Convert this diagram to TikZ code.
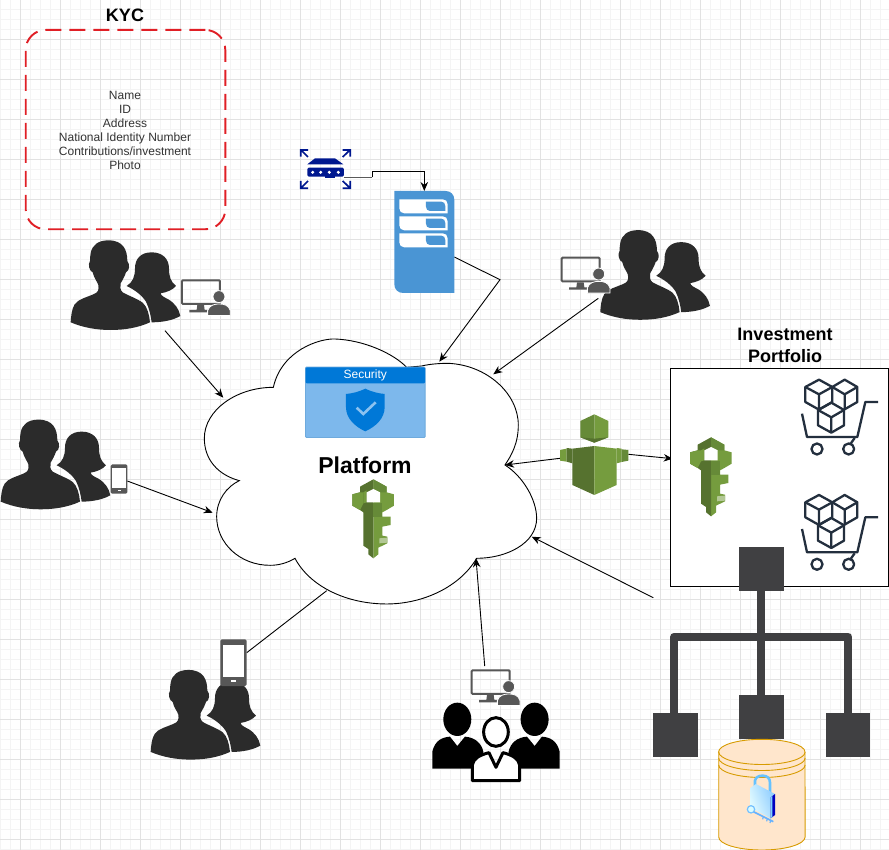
\documentclass[tikz,border=0pt]{standalone}
\usepackage{fontspec}
\setmainfont{Liberation Sans}
\usetikzlibrary{arrows.meta,shapes.geometric}
\definecolor{gridmajor}{HTML}{E2E2E2}
\definecolor{gridminor}{HTML}{F4F4F4}
\definecolor{silhouette}{HTML}{2B2B2B}
\definecolor{devicegray}{HTML}{575757}
\definecolor{kycred}{HTML}{E01F26}
\definecolor{navy}{HTML}{00188F}
\definecolor{serverblue}{HTML}{4A95D4}
\definecolor{secdark}{HTML}{0078D7}
\definecolor{seclight}{HTML}{7DB8EC}
\definecolor{seccheck}{HTML}{8CC2F0}
\definecolor{awslight}{HTML}{759C3E}
\definecolor{awsdark}{HTML}{56722F}
\definecolor{awsmid}{HTML}{668A38}
\definecolor{cartink}{HTML}{232F3E}
\definecolor{orggray}{HTML}{404042}
\definecolor{cylfill}{HTML}{FFE6CC}
\definecolor{cylline}{HTML}{D79B00}
\tikzset{
  link/.style={draw=black,line width=0.9pt},
  arrowlink/.style={link,-{Stealth[length=9pt,width=7.5pt]}},
  heading/.style={font=\fontsize{18}{22}\selectfont\bfseries,align=center,text=black,inner sep=0pt},
  kycbox/.style={draw=kycred,line width=1.9pt,dash pattern=on 16pt off 8pt,rounded corners=20pt,minimum width=199.6pt,minimum height=199.3pt,inner sep=0pt},
  kyctext/.style={inner sep=0pt,font=\fontsize{12}{14}\selectfont,text=black!80,align=center},
  orgbox/.style={fill=orggray,draw=none,minimum size=44.5pt,inner sep=0pt},
  orgline/.style={draw=orggray,line width=8pt,line join=round},
  cartline/.style={draw=cartink,line width=2.3pt,line join=round,fill=none},
}
\newcommand{\personpair}[2]{%
\begin{scope}[shift={({#1+70},{#2+235})},scale=0.3333]
 \fill[silhouette] (115,16) .. controls (85,16) and (66,30) .. (62,55)
   .. controls (60,65) and (60,72) .. (60,78)
   .. controls (53,88) and (58,108) .. (68,112)
   .. controls (72,130) and (82,140) .. (85,150)
   .. controls (87,165) and (85,172) .. (70,178)
   .. controls (50,187) and (25,192) .. (14,208)
   .. controls (5,222) and (3,245) .. (2,262)
   .. controls (40,278) and (80,285) .. (122,285)
   .. controls (165,285) and (205,278) .. (240,262)
   .. controls (238,240) and (232,215) .. (218,203)
   .. controls (200,190) and (175,182) .. (158,172)
   .. controls (150,165) and (150,155) .. (152,145)
   .. controls (158,135) and (165,122) .. (168,112)
   .. controls (178,108) and (181,88) .. (172,78)
   .. controls (172,45) and (160,16) .. (115,16) -- cycle;
 \fill[silhouette] (245,52) .. controls (212,52) and (195,72) .. (195,100)
   .. controls (195,125) and (188,142) .. (170,153)
   .. controls (195,165) and (215,180) .. (228,200)
   .. controls (238,220) and (243,245) .. (245,262)
   .. controls (280,262) and (310,255) .. (331,243)
   .. controls (327,222) and (315,205) .. (295,193)
   .. controls (285,188) and (272,182) .. (272,175)
   .. controls (290,172) and (308,165) .. (318,153)
   .. controls (302,140) and (297,125) .. (297,100)
   .. controls (297,72) and (278,52) .. (245,52) -- cycle;
\end{scope}}
\newcommand{\monitorperson}[2]{%
\begin{scope}[shift={(#1,#2)},scale=0.3333]
 \draw[devicegray,line width=2pt,rounded corners=1pt] (546,841) rectangle (660,912);
 \fill[devicegray] (592,915) -- (612,915) -- (614,930) -- (622,930) -- (622,937) -- (568,937) -- (568,930) -- (590,930) -- cycle;
 \fill[devicegray,draw=white,line width=0.8pt] (623,947) -- (623,932) .. controls (628,915) and (645,912) .. (657,912) .. controls (672,912) and (686,915) .. (691,932) -- (691,947) -- cycle;
 \fill[devicegray,draw=white,line width=0.8pt] (657,890) circle [radius=18];
\end{scope}}
\newcommand{\phoneicon}[3]{%
\begin{scope}[shift={(#1,#2)},scale=#3]
 \fill[devicegray,rounded corners=1.5pt] (0,0) rectangle (26.4,46.7);
 \fill[white] (2.6,5.6) rectangle (23.6,37.4);
 \fill[white] (10.8,40.7) rectangle (16,42.7);
\end{scope}}
\newcommand{\keyicon}[2]{%
\begin{scope}[shift={(#1,#2)},scale=0.3333]
 % right half
 \fill[awslight] (85,13) -- (125,35) -- (125,52) -- (147,58) -- (147,92) -- (125,105) -- (112,112) -- (112,125) -- (137,125) -- (137,150) -- (112,155) -- (112,182) -- (127,185) -- (127,205) -- (100,218) -- (100,238) -- (85,250) -- cycle;
 % left half
 \fill[awsdark] (85,13) -- (45,35) -- (45,52) -- (22,58) -- (22,92) -- (45,105) -- (55,112) -- (55,212) -- (70,222) -- (70,238) -- (85,250) -- cycle;
 \fill[awslight] (45,52) -- (22,58) -- (22,92) -- (45,105) -- (55,85) -- (55,52) -- cycle;
 \fill[awsmid] (85,13) -- (125,35) -- (125,52) -- (105,52) -- (85,42) -- cycle;
 \fill[awsmid] (85,85) -- (112,85) -- (112,125) -- (85,125) -- cycle;
 \fill[awslight!55!white] (103,190) -- (127,188) -- (127,203) -- (103,205) -- cycle;
 \fill[awslight] (55,52) -- (65,46) -- (65,82) -- (55,85) -- cycle;
 \fill[white] (85,42) -- (105,52) -- (105,82) -- (65,82) -- (65,52) -- cycle;
\end{scope}}
\newcommand{\carticon}[2]{%
\begin{scope}[shift={(#1,#2)},scale=0.3333]
 \draw[cartline] (63,23) -- (103,45) -- (103,90) -- (63,113) -- (22,90) -- (22,45) -- cycle;
 \draw[cartline] (22,45) -- (63,67) -- (103,45) (63,67) -- (63,113);
 \draw[cartline] (103,45) -- (140,23) -- (178,45) -- (178,90) -- (138,113);
 \draw[cartline] (103,45) -- (140,67) -- (178,45) (140,67) -- (140,113);
 \draw[cartline] (100,92) -- (138,114) -- (138,160) -- (100,182) -- (60,160) -- (60,114) -- cycle;
 \draw[cartline] (60,114) -- (100,136) -- (138,114) (100,136) -- (100,182);
 \draw[cartline] (240,90) -- (202,90) -- (178,195) -- (27,195) -- (12,125);
 \draw[cartline] (57,231) circle [radius=16.5];
 \draw[cartline] (152,231) circle [radius=16.5];
 \draw[cartline] (170,198) -- (158,215);
\end{scope}}
\begin{document}
\begin{tikzpicture}[x=1pt,y=-1pt]
\useasboundingbox (0,0) rectangle (889,850);
\fill[white] (0,0) rectangle (889,850);
% grid
\foreach \k in {0,...,88} \draw[gridminor,line width=0.8pt] ({0.7+10*\k},0) -- ({0.7+10*\k},850);
\foreach \k in {0,...,85} \draw[gridminor,line width=0.8pt] (0,{-0.6+10*\k}) -- (889,{-0.6+10*\k});
\foreach \k in {0,...,21} \draw[gridmajor,line width=0.9pt] ({20.7+40*\k},0) -- ({20.7+40*\k},850);
\foreach \k in {0,...,20} \draw[gridmajor,line width=0.9pt] (0,{39.4+40*\k}) -- (889,{39.4+40*\k});

% connector end points
\coordinate (kycUsersOut) at (165,330.7);
\coordinate (cloudKyc) at (223.3,397.7);
\coordinate (rightUsersOut) at (598.3,298.3);
\coordinate (cloudRight) at (493.3,374.3);
\coordinate (leftUsersOut) at (127.3,481);
\coordinate (cloudLeft) at (212.7,512.7);
\coordinate (phoneOut) at (246.7,652.7);
\coordinate (cloudBottom) at (326.7,590.7);
\coordinate (teamOut) at (484.7,666);
\coordinate (cloudTeam) at (476,558.3);
\coordinate (orgOut) at (653.3,597.7);
\coordinate (cloudOrg) at (531.7,536.7);
\coordinate (iamLeft) at (560,458.3);
\coordinate (cloudIam) at (505,465);
\coordinate (iamRight) at (628.3,454.3);
\coordinate (portfolioIn) at (672.7,458.7);
\coordinate (routerOut) at (344,177.3);
\coordinate (routerBendA) at (372.3,177.3);
\coordinate (routerBendB) at (372.3,171.3);
\coordinate (routerBendC) at (424.3,171.3);
\coordinate (serverTop) at (424.3,191);
\coordinate (serverOut) at (454.3,257);
\coordinate (serverBend) at (500,279.7);
\coordinate (cloudServer) at (439.3,361.7);

% cloud
\begin{scope}[shift={(190,330)},scale=0.3333]
 \draw[fill=white,draw=black,line width=0.9pt] (250,172)
  .. controls (275,60) and (390,25) .. (435,27)
  .. controls (520,30) and (610,70) .. (650,112)
  -- (695,108)
  .. controls (720,102) and (750,100) .. (775,100)
  .. controls (890,105) and (985,190) .. (985,285)
  .. controls (985,340) and (965,375) .. (945,405)
  .. controls (1000,440) and (1040,510) .. (1040,565)
  .. controls (1040,640) and (950,685) .. (860,685)
  .. controls (810,770) and (700,822) .. (590,822)
  .. controls (470,822) and (360,770) .. (315,685)
  .. controls (290,700) and (265,706) .. (240,706)
  .. controls (150,706) and (80,640) .. (80,560)
  .. controls (80,510) and (110,470) .. (148,452)
  .. controls (85,435) and (43,390) .. (43,325)
  .. controls (43,240) and (140,172) .. (250,172) -- cycle;
\end{scope}

% connectors
\draw[arrowlink] (kycUsersOut) -- (cloudKyc);
\draw[arrowlink] (rightUsersOut) -- (cloudRight);
\draw[arrowlink] (leftUsersOut) -- (cloudLeft);
\draw[link] (phoneOut) -- (cloudBottom);
\draw[arrowlink] (teamOut) -- (cloudTeam);
\draw[arrowlink] (orgOut) -- (cloudOrg);
\draw[arrowlink] (iamLeft) -- (cloudIam);
\draw[arrowlink] (iamRight) -- (portfolioIn);
\draw[arrowlink] (serverOut) -- (serverBend) -- (cloudServer);
\draw[link,draw=black!65] (routerOut) -- (routerBendA);
\draw[arrowlink] (routerBendA) -- (routerBendB) -- (routerBendC) -- (serverTop);

% KYC
\node[heading] (kycTitle) at (125,15) {KYC};
\node[kycbox] (kyc) at (125.5,129.6) {};
\node[kyctext] (kycText) at (125,130) {Name\\ID\\Address\\National Identity Number\\Contributions/investment\\Photo};

% people
\personpair{0}{0}
\personpair{529.6}{-10.2}
\personpair{-70}{179.3}
\personpair{80}{429.6}
\monitorperson{0}{0}
\monitorperson{379.7}{-22.6}
\monitorperson{289.7}{390}
\phoneicon{110.7}{464.3}{0.63}
\phoneicon{220.3}{639.3}{1}

% team
\begin{scope}[shift={(140,620)},scale=0.3333]
 \fill[black] (952,298) ellipse [x radius=42,y radius=50];
 \fill[black] (1184,298) ellipse [x radius=42,y radius=50];
 \fill[black] (877,446) -- (877,395) .. controls (885,362) and (905,352) .. (930,350) -- (952,378) -- (975,350) .. controls (1005,352) and (1025,370) .. (1030,395) -- (1030,446) -- cycle;
 \fill[black] (1259,446) -- (1259,395) .. controls (1251,362) and (1231,352) .. (1206,350) -- (1184,378) -- (1161,350) .. controls (1131,352) and (1111,370) .. (1106,395) -- (1106,446) -- cycle;
 \draw[fill=white,draw=black,line width=3pt] (1068,336) ellipse [x radius=37,y radius=43];
 \draw[fill=white,draw=black,line width=3pt,line join=round] (997,482) -- (997,435) .. controls (1000,415) and (1020,405) .. (1047,398) -- (1068,442) -- (1089,398) .. controls (1116,405) and (1136,415) .. (1139,435) -- (1139,482) -- cycle;
\end{scope}

% router
\begin{scope}[shift={(280,130)},scale=0.3333]
 \fill[navy] (105,85) -- (165,85) -- (190,103) -- (82,103) -- cycle;
 \fill[navy,rounded corners=1.5pt] (82,113) rectangle (192,140);
 \fill[navy] (135,138) rectangle (165,143);
 \foreach \d in {98,122,148,175} \fill[white] (\d,127) circle [radius=5];
 \draw[navy,line width=1.7pt] (84,81) -- (65,62) (62,80) -- (62,60) -- (84,60);
 \draw[navy,line width=1.7pt] (188,81) -- (208,62) (188,60) -- (211,60) -- (211,80);
 \draw[navy,line width=1.7pt] (84,153) -- (65,172) (62,153) -- (62,175) -- (84,175);
 \draw[navy,line width=1.7pt] (188,153) -- (208,172) (188,175) -- (211,175) -- (211,153);
\end{scope}

% server
\begin{scope}[shift={(280,130)},scale=0.3333]
 \fill[serverblue] (343,183) -- (497,183) .. controls (512,183) and (523,194) .. (523,209) -- (523,489) -- (369,489) .. controls (354,489) and (343,478) .. (343,463) -- cycle;
 \foreach \t in {208,259,310} {
  \fill[white] (358,\t) -- (488,\t) .. controls (497,\t) and (503,{\t+6}) .. (503,{\t+15}) -- (503,{\t+42}) -- (373,{\t+42}) .. controls (364,{\t+42}) and (358,{\t+36}) .. (358,{\t+27}) -- cycle;
  \fill[serverblue] (438,{\t+7}) -- (484,{\t+7}) .. controls (491,{\t+7}) and (496,{\t+12}) .. (496,{\t+20}) -- (496,{\t+35}) -- (450,{\t+35}) .. controls (443,{\t+35}) and (438,{\t+30}) .. (438,{\t+22}) -- cycle;
 }
\end{scope}

% security panel
\node[inner sep=0pt,minimum width=119.3pt,minimum height=70pt] (security) at (365.3,402.3) {};
\draw[fill=seclight,draw=serverblue!80,line width=0.9pt,rounded corners=1pt] (security.north west) rectangle (security.south east);
\fill[secdark,rounded corners=1pt] (305.7,367.3) rectangle (425,383.3);
\node[inner sep=0pt,text=white,font=\fontsize{12}{14}\selectfont] (securityTitle) at (365.3,375.5) {Security};
\begin{scope}[shift={(190,330)},scale=0.3333]
 \fill[secdark] (526,176) .. controls (505,186) and (488,190) .. (468,192) -- (468,232) .. controls (468,265) and (495,290) .. (526,304) .. controls (557,290) and (584,265) .. (584,232) -- (584,192) .. controls (564,190) and (547,186) .. (526,176) -- cycle;
 \draw[seccheck,line width=2.6pt] (500,233) -- (520,252) -- (557,217);
\end{scope}

\node[inner sep=0pt,font=\fontsize{23}{26}\selectfont\bfseries] (platform) at (365,465) {Platform};
\keyicon{345}{475}

% IAM figure
\begin{scope}[shift={(555,410)},scale=0.3333]
 \fill[awslight] (118,13) -- (160,33) -- (160,82) -- (118,98) -- cycle;
 \fill[awsmid] (118,13) -- (76,33) -- (76,82) -- (118,98) -- cycle;
 \fill[awsdark] (76,82) -- (118,86) -- (160,82) -- (118,98) -- cycle;
 \fill[awsdark] (118,108) -- (52,116) -- (52,225) -- (118,255) -- cycle;
 \fill[awslight] (118,108) -- (185,116) -- (185,225) -- (118,255) -- cycle;
 \fill[awslight] (15,120) -- (35,116) -- (35,155) -- (15,152) -- cycle;
 \fill[awsdark] (35,114) -- (52,116) -- (52,160) -- (35,155) -- cycle;
 \fill[awslight] (185,114) -- (200,116) -- (200,156) -- (185,160) -- cycle;
 \fill[awsmid] (200,118) -- (220,120) -- (220,152) -- (200,156) -- cycle;
\end{scope}

% portfolio
\node[heading] (portfolioTitle) at (785,345.5) {Investment\\Portfolio};
\node[draw=black,line width=0.9pt,fill=white,minimum width=217.6pt,minimum height=217.3pt,inner sep=0pt] (portfolio) at (779.5,477.3) {};
\keyicon{682.7}{433}
\carticon{798}{372}
\carticon{798}{487.3}

% org chart
\node[orgbox] (orgTop) at (761.3,568.8) {};
\node[orgbox] (orgLeft) at (675.5,735.2) {};
\node[orgbox] (orgMid) at (761.3,717.2) {};
\node[orgbox] (orgRight) at (848.2,735.2) {};
\coordinate (orgJoin) at (761.3,636.7);
\coordinate (orgJoinL) at (674.3,636.7);
\coordinate (orgJoinR) at (848.3,636.7);
\draw[orgline] (orgTop) -- (orgJoin) -- (orgMid);
\draw[orgline] (orgLeft.north -| orgJoinL) -- (orgJoinL) -- (orgJoinR) -- (orgRight.north -| orgJoinR);

% cylinder
\draw[fill=cylfill,draw=cylline,line width=0.9pt] (718.7,752) -- (718.7,837) arc [start angle=180,end angle=0,x radius=43.2,y radius=13] -- (805,752) arc [start angle=0,end angle=-180,x radius=43.2,y radius=12.7] -- cycle;
\draw[draw=cylline,line width=0.9pt] (718.7,752) arc [start angle=180,end angle=0,x radius=43.2,y radius=12.5];
\draw[draw=cylline,line width=0.9pt] (718.7,758) arc [start angle=180,end angle=0,x radius=43.2,y radius=12.5];
\draw[draw=cylline,line width=0.9pt] (718.7,765) arc [start angle=180,end angle=0,x radius=43.2,y radius=12.5];
% lock
\begin{scope}[shift={(740,770)},scale=0.3333]
 \draw[draw=blue!40!cyan!60,line width=2.6pt,line join=round] (45,50) -- (45,32) .. controls (47,22) and (55,17) .. (68,17) .. controls (82,17) and (90,25) .. (90,38) -- (90,70);
 \shade[left color=blue!8!cyan!10,right color=blue!45!cyan!45,shading angle=110] (30,55) -- (48,42) -- (105,72) -- (92,82) -- (92,145) -- (30,112) -- cycle;
 \fill[blue!75!black] (92,82) -- (105,72) -- (105,135) -- (92,145) -- cycle;
 \fill[blue!35!cyan!50] (92,82) -- (97,78) -- (97,141) -- (92,145) -- cycle;
 \draw[draw=blue!50!cyan!60,line width=1.7pt] (40,125) -- (100,155);
 \draw[draw=blue!50!cyan!60,line width=1.2pt] (70,140) -- (68,148) (82,146) -- (80,154) (92,151) -- (90,159);
 \draw[fill=blue!8!cyan!14,draw=blue!45!cyan!55,line width=1.2pt] (33,118) circle [radius=11];
\end{scope}
\end{tikzpicture}
\end{document}
